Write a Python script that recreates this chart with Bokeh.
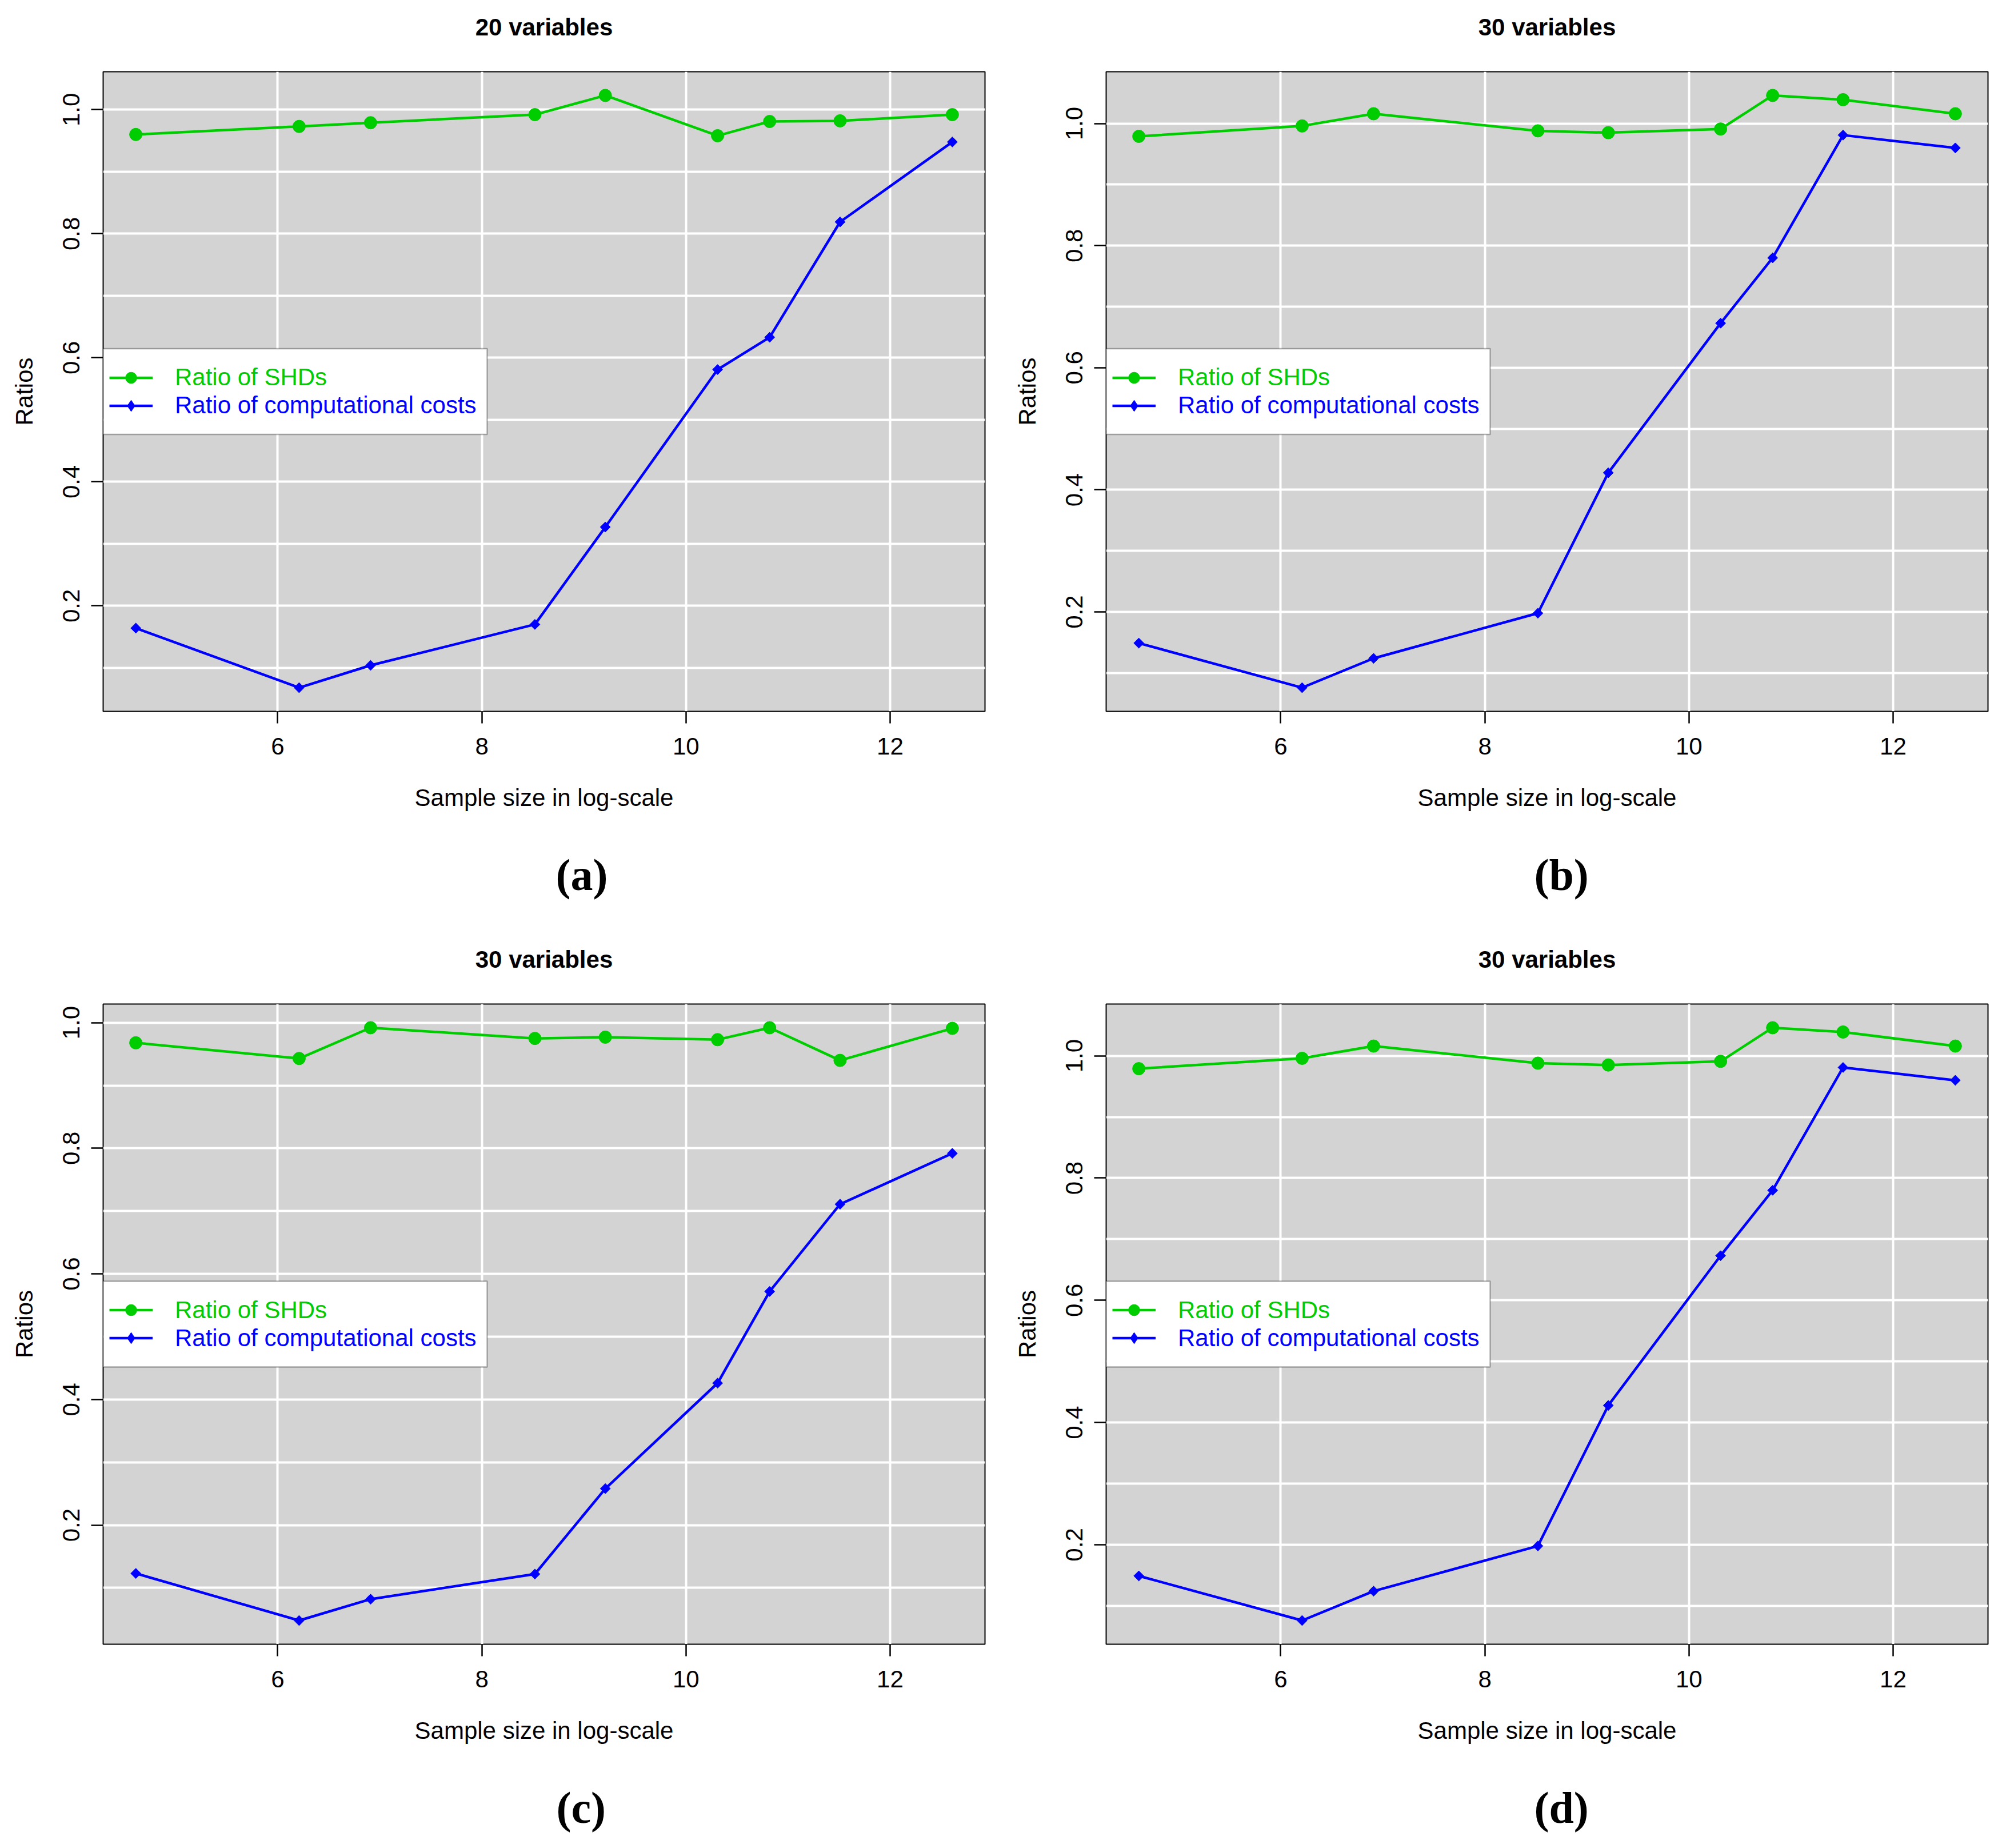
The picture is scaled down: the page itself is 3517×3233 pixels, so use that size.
from bokeh.plotting import figure
from bokeh.layouts import column, row
from bokeh.models import Range1d, FixedTicker, Legend, LegendItem, BoxAnnotation, Title
from bokeh.embed import file_html
from bokeh.resources import INLINE

# ---------------- data ----------------
x_log_n = [4.61, 6.21, 6.91, 8.52, 9.21, 10.31, 10.82, 11.51, 12.61]

shd_a = [0.960, 0.973, 0.979, 0.992, 1.023, 0.958, 0.981, 0.982, 0.992]
cost_a = [0.164, 0.068, 0.104, 0.170, 0.327, 0.581, 0.633, 0.819, 0.948]

shd_b = [0.979, 0.996, 1.016, 0.988, 0.985, 0.991, 1.046, 1.039, 1.016]
cost_b = [0.149, 0.076, 0.124, 0.198, 0.428, 0.673, 0.780, 0.981, 0.960]

shd_c = [0.968, 0.943, 0.992, 0.975, 0.977, 0.973, 0.992, 0.940, 0.991]
cost_c = [0.123, 0.048, 0.082, 0.122, 0.258, 0.426, 0.572, 0.711, 0.792]

shd_d = [0.979, 0.996, 1.016, 0.988, 0.985, 0.991, 1.046, 1.039, 1.016]
cost_d = [0.149, 0.076, 0.124, 0.198, 0.428, 0.673, 0.780, 0.981, 0.960]

titles = ["20 variables", "30 variables", "30 variables", "30 variables"]
panel_tags = ["(a)", "(b)", "(c)", "(d)"]
legend_labels = ["Ratio of SHDs", "Ratio of computational costs"]
x_label = "Sample size in log-scale"
y_label = "Ratios"

x_ticks = [6, 8, 10, 12]
y_ticks = [0.2, 0.4, 0.6, 0.8, 1.0]
y_tick_labels = ["0.2", "0.4", "0.6", "0.8", "1.0"]
y_grid_ticks = [0.1, 0.2, 0.3, 0.4, 0.5, 0.6, 0.7, 0.8, 0.9, 1.0]

# ---------------- style ----------------
GREEN = "#00CD00"
BLUE = "#0000FF"
BG = "#D3D3D3"
SANS = "Liberation Sans"
SERIF = "Liberation Serif"
FS = "42px"
FRAME_W = 1543


def spacer(h):
    # a blank (white-on-white) title used only to reserve vertical space
    return Title(text=" ", text_font_size="1px", text_color="white", standoff=h)


def make_panel(shd, cost, title, tag, bl, br, bt, bb, fh, tag_offset):
    xs = x_log_n
    xmin, xmax = min(xs), max(xs)
    dx = xmax - xmin
    yall = list(shd) + list(cost)
    ymin, ymax = min(yall), max(yall)
    dy = ymax - ymin

    p = figure(frame_width=FRAME_W, frame_height=fh,
               x_range=Range1d(xmin - 0.04 * dx, xmax + 0.04 * dx),
               y_range=Range1d(ymin - 0.04 * dy, ymax + 0.04 * dy),
               output_backend="svg", toolbar_location=None,
               min_border_left=bl, min_border_right=br,
               min_border_top=bt, min_border_bottom=bb)
    p.title = None

    # main title, pushed up by a spacer next to the frame
    p.add_layout(spacer(52), "above")
    p.add_layout(Title(text=title, align="center", text_font=SANS,
                       text_font_style="bold", text_font_size=FS,
                       text_color="black", standoff=0), "above")

    p.background_fill_color = BG
    p.border_fill_color = "white"
    p.outline_line_color = "black"
    p.outline_line_width = 2

    p.xgrid.ticker = FixedTicker(ticks=x_ticks)
    p.ygrid.ticker = FixedTicker(ticks=y_grid_ticks)
    for g in (p.xgrid, p.ygrid):
        g.grid_line_color = "white"
        g.grid_line_width = 4

    p.xaxis.ticker = FixedTicker(ticks=x_ticks)
    p.yaxis.ticker = FixedTicker(ticks=y_ticks)
    p.yaxis.major_label_overrides = {t: l for t, l in zip(y_ticks, y_tick_labels)}
    p.yaxis.major_label_orientation = "parallel"

    for ax in (p.xaxis, p.yaxis):
        ax.axis_line_color = None
        ax.major_tick_in = 0
        ax.major_tick_out = 21
        ax.major_tick_line_width = 2.5
        ax.major_tick_line_color = "black"
        ax.minor_tick_line_color = None
        ax.major_label_text_font = SANS
        ax.major_label_text_font_size = FS
        ax.major_label_text_color = "black"
        ax.axis_label_text_font = SANS
        ax.axis_label_text_font_size = FS
        ax.axis_label_text_font_style = "normal"
        ax.axis_label_text_color = "black"

    p.xaxis.axis_label = x_label
    p.yaxis.axis_label = y_label
    p.xaxis.major_label_standoff = 25
    p.xaxis.axis_label_standoff = 49
    p.yaxis.major_label_standoff = 20
    p.yaxis.axis_label_standoff = 42

    # sub-figure tag below the axis title
    p.add_layout(spacer(62), "below")
    p.add_layout(Title(text=tag, align="left", offset=tag_offset, vertical_align="top",
                       text_font=SERIF, text_font_style="bold", text_font_size="78px",
                       text_color="black", standoff=0), "below")

    lg = p.line(xs, shd, line_color=GREEN, line_width=4.5)
    sg = p.scatter(xs, shd, marker="circle", size=22, fill_color=GREEN, line_color=GREEN)
    lb = p.line(xs, cost, line_color=BLUE, line_width=4.5)
    # diamond used for the legend key (hidden beneath the square diamonds below)
    sb = p.scatter(xs, cost, marker="diamond", size=17,
                   fill_color=BLUE, line_color=BLUE)
    # R-style filled diamond (a square turned 45 degrees)
    p.scatter(xs, cost, marker="square", angle=0.785398, size=12.5,
              fill_color=BLUE, line_color=BLUE, line_width=1)

    mid = fh / 2.0
    box = BoxAnnotation(left=0, right=672, bottom=mid - 75, top=mid + 75,
                        left_units="screen", right_units="screen",
                        bottom_units="screen", top_units="screen",
                        fill_color="white", fill_alpha=1.0,
                        line_color="black", line_width=2.5)
    p.add_layout(box)

    rows_y = [mid + 24.5, mid - 24.5]
    colors = [GREEN, BLUE]
    rends = [[lg, sg], [lb, sb]]
    for lab, yc, col, rr in zip(legend_labels, rows_y, colors, rends):
        leg = Legend(items=[LegendItem(label=lab, renderers=rr)],
                     location=(11, yc - 24.5), padding=0, spacing=0, margin=0,
                     label_height=49, glyph_height=49, glyph_width=76,
                     label_standoff=39, label_text_font=SANS,
                     label_text_font_size=FS, label_text_color=col,
                     background_fill_alpha=0, border_line_alpha=0)
        p.add_layout(leg)
    return p


pa = make_panel(shd_a, cost_a, titles[0], panel_tags[0], 180, 27, 125, 379, 1119, 792)
pb = make_panel(shd_b, cost_b, titles[1], panel_tags[1], 185, 22, 125, 379, 1119, 749)
pc = make_panel(shd_c, cost_c, titles[2], panel_tags[2], 180, 27, 133, 341, 1120, 793)
pd = make_panel(shd_d, cost_d, titles[3], panel_tags[3], 185, 22, 133, 341, 1120, 749)

layout = column(row(pa, pb, spacing=0), row(pc, pd, spacing=0), spacing=0)

open("out.html", "w").write(file_html(layout, INLINE))
